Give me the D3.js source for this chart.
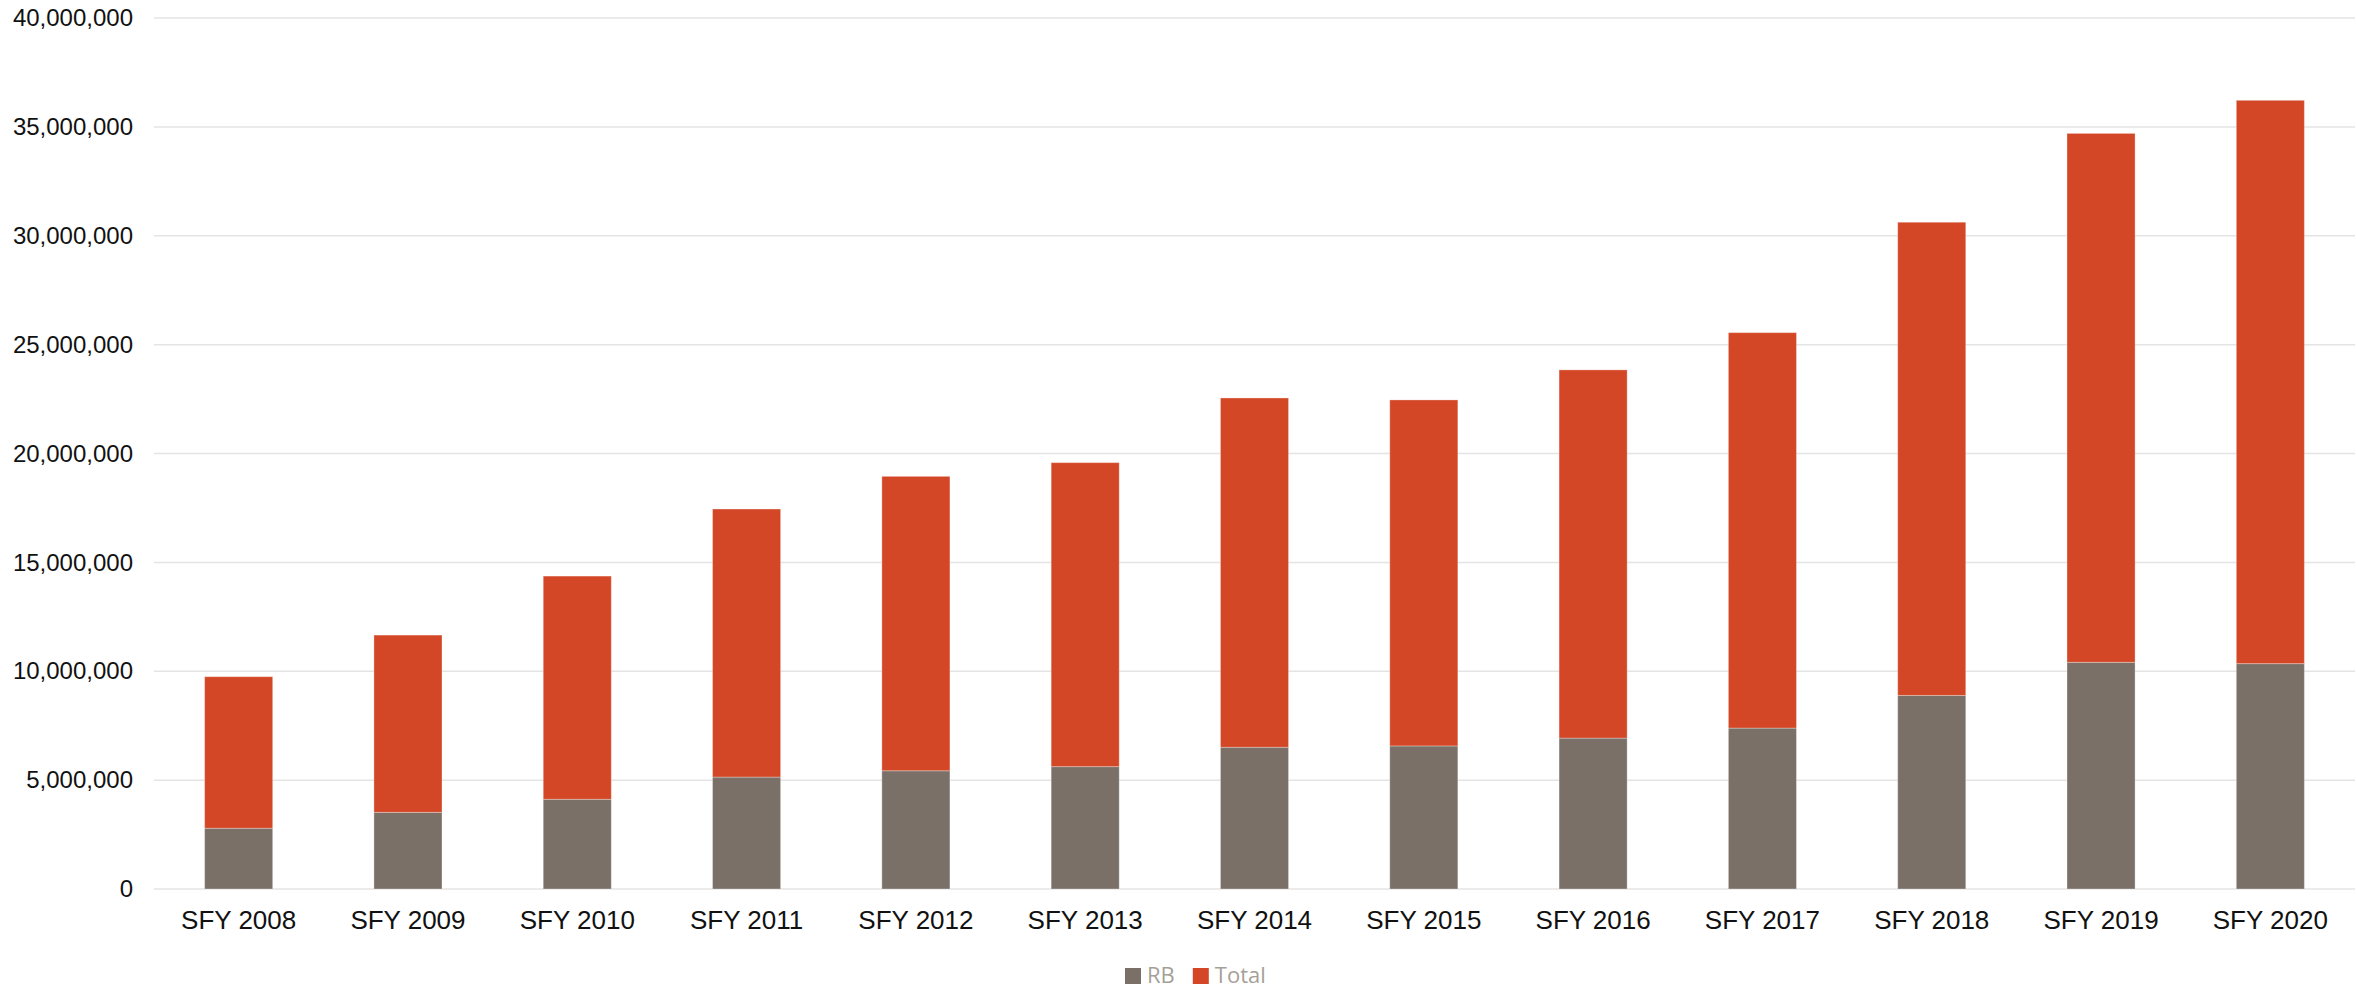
<!DOCTYPE html>
<html>
<head>
  <title>SFY RB and Total</title>
  <script src="https://cdnjs.cloudflare.com/ajax/libs/d3/7.8.5/d3.min.js"></script>
  <style>
    body { margin: 0; background: #fff; }
    .grid line { stroke: #e4e4e4; stroke-width: 1.5px; }
    .axis text { font-family: "Liberation Sans", Arial, sans-serif; fill: #111; }
    .legend text { font-family: "Open Sans", "Noto Sans", sans-serif; fill: #a69f98; font-size: 22px; }
  </style>
</head>
<body>
  <svg width="2356" height="988"></svg>
</body>
</html>

<script>
// values
var years = ["SFY 2008", "SFY 2009", "SFY 2010", "SFY 2011", "SFY 2012", "SFY 2013", "SFY 2014",
             "SFY 2015", "SFY 2016", "SFY 2017", "SFY 2018", "SFY 2019", "SFY 2020"];
var rb    = [2790000, 3520000, 4120000, 5140000, 5430000, 5620000, 6510000,
             6570000, 6930000, 7390000, 8890000, 10410000, 10350000];
var total = [6960000, 8140000, 10250000, 12310000, 13520000, 13960000, 16040000,
             15890000, 16910000, 18160000, 21730000, 24290000, 25870000];
var yTicks = [0, 5000000, 10000000, 15000000, 20000000, 25000000, 30000000, 35000000, 40000000];
var seriesNames = ["RB", "Total"];
var colors = ["#7a7068", "#d34726"];

var svg = d3.select("svg"),
    margin = {top: 18, right: 1, bottom: 99, left: 154},
    width = +svg.attr("width") - margin.left - margin.right,
    height = +svg.attr("height") - margin.top - margin.bottom,
    g = svg.append("g").attr("transform", "translate(" + margin.left + "," + margin.top + ")");

var rows = years.map(function(d, i) { return {year: d, RB: rb[i], Total: total[i]}; });
var stacked = d3.stack().keys(seriesNames)(rows);

var x = d3.scaleBand()
    .domain(years)
    .range([0, width])
    .paddingInner(0.598)
    .paddingOuter(0.299);

var y = d3.scaleLinear()
    .domain([0, 40000000])
    .range([height, 0]);

var color = d3.scaleOrdinal().domain(seriesNames).range(colors);

// gridlines
g.append("g")
    .attr("class", "grid")
    .selectAll("line")
    .data(yTicks)
  .enter().append("line")
    .attr("x1", 0)
    .attr("x2", width)
    .attr("y1", function(d) { return y(d); })
    .attr("y2", function(d) { return y(d); });

// y axis labels
var yAxis = g.append("g")
    .attr("class", "axis axis--y")
    .call(d3.axisLeft(y).tickValues(yTicks).tickFormat(d3.format(",")).tickSize(0).tickPadding(21));
yAxis.select(".domain").remove();
yAxis.selectAll("text").style("font-size", "24px");

// stacked bars
g.append("g")
    .selectAll("g")
    .data(stacked)
  .enter().append("g")
    .attr("fill", function(d) { return color(d.key); })
  .selectAll("rect")
    .data(function(d) { return d; })
  .enter().append("rect")
    .attr("x", function(d) { return x(d.data.year); })
    .attr("y", function(d) { return y(d[1]); })
    .attr("width", x.bandwidth())
    .attr("height", function(d) { return y(d[0]) - y(d[1]); })
    .attr("stroke", "#fff")
    .attr("stroke-opacity", 0.3)
    .attr("stroke-width", 1);

// x axis labels
var xAxis = g.append("g")
    .attr("class", "axis axis--x")
    .attr("transform", "translate(0," + height + ")")
    .call(d3.axisBottom(x).tickSize(0).tickPadding(22));
xAxis.select(".domain").remove();
xAxis.selectAll("text").style("font-size", "26px");

// legend
var legend = svg.append("g")
    .attr("class", "legend")
    .attr("transform", "translate(1125,968)");

var lx = 0;
seriesNames.forEach(function(name) {
  var item = legend.append("g").attr("transform", "translate(" + lx + ",0)");
  item.append("rect")
      .attr("width", 16)
      .attr("height", 16)
      .attr("fill", color(name));
  var t = item.append("text")
      .attr("x", 22)
      .attr("y", 15)
      .text(name);
  lx += 22 + t.node().getComputedTextLength() + 18;
});
</script>
